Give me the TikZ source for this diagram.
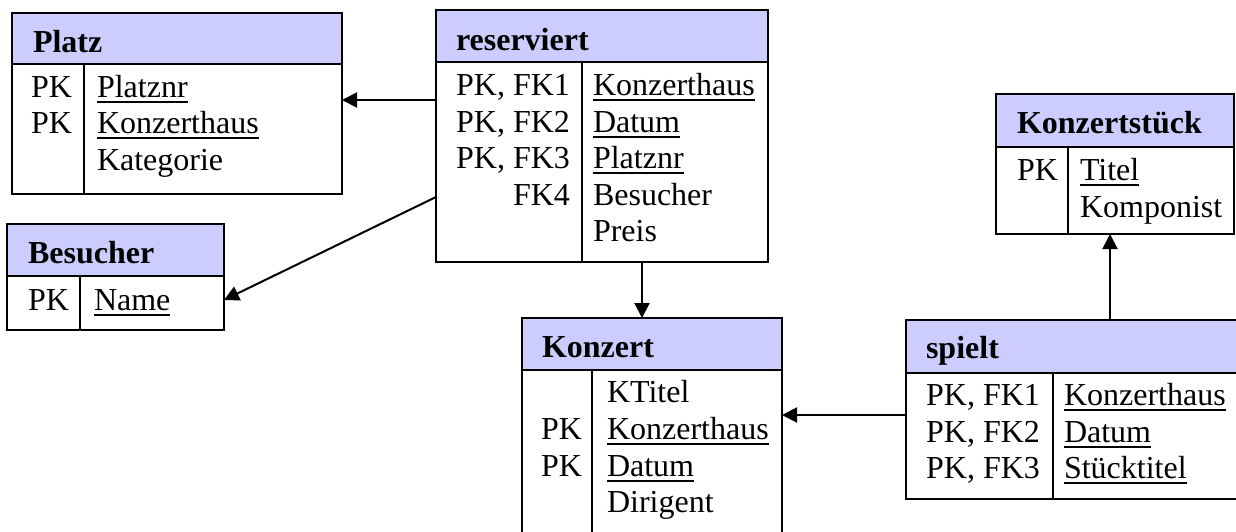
\documentclass[tikz,border=0pt]{standalone}
\usepackage{fontspec}
\setmainfont{Liberation Serif}
\usetikzlibrary{arrows.meta}
\definecolor{hdrc}{RGB}{204,204,255}
\newcommand\ulw[1]{\setbox0\hbox{#1}\rlap{\rule[-6pt]{\wd0}{1.8pt}}\box0}
\tikzset{
  tbl/.style={draw, line width=2pt, inner sep=0pt, outer sep=0pt, anchor=north west, fill=white},
  hdr/.style={tbl, fill=hdrc},
  txt/.style={inner sep=0pt, outer sep=0pt, font=\fontsize{32}{36.7}\selectfont},
  ttl/.style={txt, anchor=base west, font=\fontsize{32}{36.7}\selectfont\bfseries},
  key/.style={txt, anchor=base east},
  fld/.style={txt, anchor=base west},
  divl/.style={line width=2pt},
  arr/.style={line width=2pt, -{Triangle[length=15pt,width=15pt]}}
}
\begin{document}
\begin{tikzpicture}[x=1pt, y=-1pt]
\useasboundingbox (0,0) rectangle (1236,531);
\clip (0,0) rectangle (1236,531);
% Platz
\node[tbl, minimum width=330pt, minimum height=181pt] (platz) at (12,13) {};
\node[hdr, minimum width=330pt, minimum height=51pt] (platzH) at (12,13) {};
\draw[divl] (84,64) -- (84,194);
\node[ttl] (platzT) at (33,52) {Platz};
\node[key] (pk1) at (72,97) {PK};
\node[key] (pk2) at (72,133) {PK};
\node[fld] (pf1) at (97,97) {\ulw{Platznr}};
\node[fld] (pf2) at (97,133) {\ulw{Konzerthaus}};
\node[fld] (pf3) at (97,170) {Kategorie};
% reserviert
\node[tbl, minimum width=332pt, minimum height=252pt] (res) at (436,10) {};
\node[hdr, minimum width=332pt, minimum height=52pt] (resH) at (436,10) {};
\draw[divl] (582,62) -- (582,262);
\node[ttl] (resT) at (456,50) {reserviert};
\node[key] (rk1) at (570,95) {PK, FK1};
\node[key] (rk2) at (570,132) {PK, FK2};
\node[key] (rk3) at (570,168) {PK, FK3};
\node[key] (rk4) at (570,205) {FK4};
\node[fld] (rf1) at (593,95) {\ulw{Konzerthaus}};
\node[fld] (rf2) at (593,132) {\ulw{Datum}};
\node[fld] (rf3) at (593,168) {\ulw{Platznr}};
\node[fld] (rf4) at (593,205) {Besucher};
\node[fld] (rf5) at (593,241) {Preis};
% Besucher
\node[tbl, minimum width=217pt, minimum height=106pt] (bes) at (7,224) {};
\node[hdr, minimum width=217pt, minimum height=52pt] (besH) at (7,224) {};
\draw[divl] (80,276) -- (80,330);
\node[ttl] (besT) at (28,263) {Besucher};
\node[key] (bk1) at (69,310) {PK};
\node[fld] (bf1) at (94,310) {\ulw{Name}};
% Konzert
\node[tbl, minimum width=260pt, minimum height=240pt] (konz) at (522,318) {};
\node[hdr, minimum width=260pt, minimum height=52pt] (konzH) at (522,318) {};
\draw[divl] (592,370) -- (592,560);
\node[ttl] (konzT) at (542,357) {Konzert};
\node[key] (kk1) at (582,439) {PK};
\node[key] (kk2) at (582,476) {PK};
\node[fld] (kf1) at (607,402) {KTitel};
\node[fld] (kf2) at (607,439) {\ulw{Konzerthaus}};
\node[fld] (kf3) at (607,476) {\ulw{Datum}};
\node[fld] (kf4) at (607,512) {Dirigent};
% Konzertstueck
\node[tbl, minimum width=238pt, minimum height=140pt] (kst) at (996,94) {};
\node[hdr, minimum width=238pt, minimum height=53pt] (kstH) at (996,94) {};
\draw[divl] (1068,147) -- (1068,234);
\node[ttl] (kstT) at (1017,133) {Konzertstück};
\node[key] (sk1) at (1058,180) {PK};
\node[fld] (sf1) at (1080,180) {\ulw{Titel}};
\node[fld] (sf2) at (1080,217) {Komponist};
% spielt
\node[tbl, minimum width=350pt, minimum height=179pt] (sp) at (906,320) {};
\node[hdr, minimum width=350pt, minimum height=53pt] (spH) at (906,320) {};
\draw[divl] (1053,373) -- (1053,499);
\node[ttl] (spT) at (926,358) {spielt};
\node[key] (tk1) at (1040,405) {PK, FK1};
\node[key] (tk2) at (1040,442) {PK, FK2};
\node[key] (tk3) at (1040,478) {PK, FK3};
\node[fld] (tf1) at (1064,405) {\ulw{Konzerthaus}};
\node[fld] (tf2) at (1064,442) {\ulw{Datum}};
\node[fld] (tf3) at (1064,478) {\ulw{Stücktitel}};
% connectors
\coordinate (yA) at (0,100);
\coordinate (yB1) at (0,197);
\coordinate (yB2) at (0,300);
\coordinate (xC) at (642,0);
\coordinate (yD) at (0,415);
\coordinate (xE) at (1110,0);
\draw[arr] (res.west |- yA) -- (platz.east |- yA);
\draw[arr] (res.west |- yB1) -- (bes.east |- yB2);
\draw[arr] (xC |- res.south) -- (xC |- konzH.north);
\draw[arr] (sp.west |- yD) -- (konz.east |- yD);
\draw[arr] (xE |- spH.north) -- (xE |- kst.south);
\end{tikzpicture}
\end{document}
